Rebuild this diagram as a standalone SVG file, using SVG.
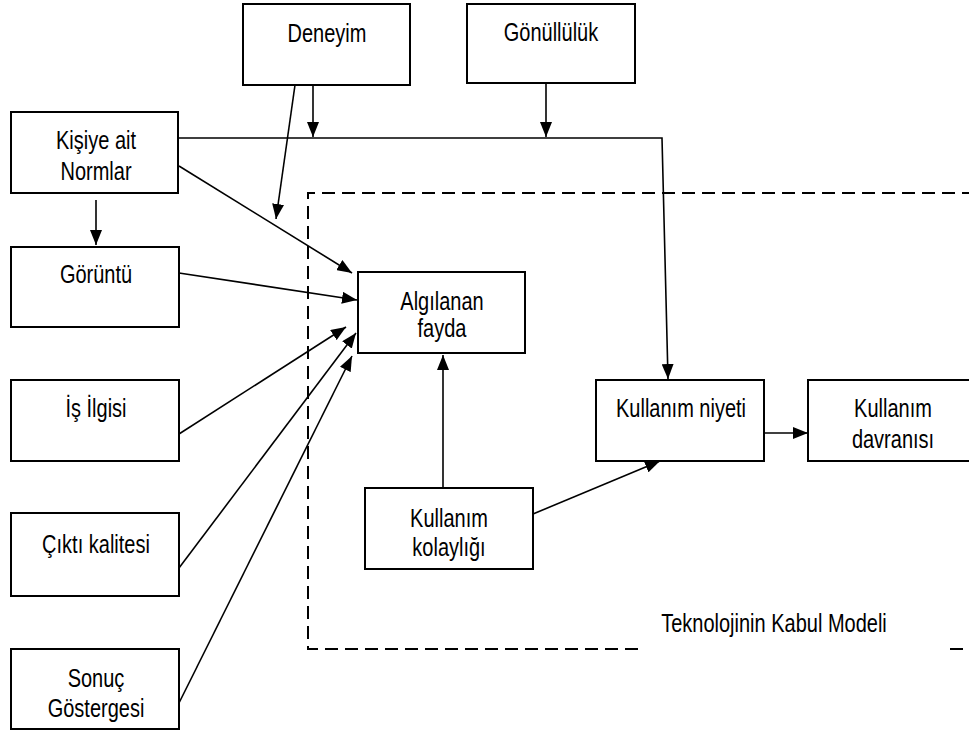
<svg xmlns="http://www.w3.org/2000/svg" width="969" height="731" viewBox="0 0 969 731">
<style>
.box{fill:#fff;stroke:#000;stroke-width:2}
.t{font-family:"Liberation Sans",Arial,sans-serif;font-size:20px;text-anchor:middle;fill:#000}
.c{fill:none;stroke:#000;stroke-width:1.6}
.dash{fill:none;stroke:#000;stroke-width:2;stroke-dasharray:13 7}
</style>
<defs>
<marker id="ah" viewBox="0 0 15 12" refX="15" refY="6" markerWidth="15" markerHeight="12" markerUnits="userSpaceOnUse" orient="auto">
<path d="M0,0 L15,6 L0,12 z" fill="#000"/>
</marker>
</defs>
<rect width="969" height="731" fill="#fff"/>
<g id="frame">
<path class="dash" d="M975,193 H308 V649 H642"/>
<path class="dash" d="M950,649 H975"/>
<text class="t" transform="matrix(1,0,0,1.3,774,632)">Teknolojinin Kabul Modeli</text>
</g>
<g id="connectors">
<path class="c" d="M313,85 V137" marker-end="url(#ah)"/>
<path class="c" d="M295,85 L276,219" marker-end="url(#ah)"/>
<path class="c" d="M546,83 V137" marker-end="url(#ah)"/>
<path class="c" d="M178,138 H662 L668,379" marker-end="url(#ah)"/>
<path class="c" d="M96,200 V245" marker-end="url(#ah)"/>
<path class="c" d="M179,166 L352,273" marker-end="url(#ah)"/>
<path class="c" d="M179,273 L357,300" marker-end="url(#ah)"/>
<path class="c" d="M179,434 L346,327" marker-end="url(#ah)"/>
<path class="c" d="M179,568 L356,333" marker-end="url(#ah)"/>
<path class="c" d="M179,703 L352,356" marker-end="url(#ah)"/>
<path class="c" d="M443,488 V355" marker-end="url(#ah)"/>
<path class="c" d="M533,514 L660,461" marker-end="url(#ah)"/>
<path class="c" d="M764,433 H808" marker-end="url(#ah)"/>
</g>
<g id="deneyim">
<rect class="box" x="243" y="4" width="167" height="81"/>
<text class="t" transform="matrix(1,0,0,1.3,327,42)">Deneyim</text>
</g>
<g id="gonulluluk">
<rect class="box" x="467" y="4" width="168" height="79"/>
<text class="t" transform="matrix(1,0,0,1.3,551,41)">Gönüllülük</text>
</g>
<g id="kisiye">
<rect class="box" x="11" y="112" width="167" height="81"/>
<text class="t" transform="matrix(1,0,0,1.3,96,149)">Kişiye ait</text>
<text class="t" transform="matrix(1,0,0,1.3,96,180)">Normlar</text>
</g>
<g id="goruntu">
<rect class="box" x="11" y="247" width="168" height="80"/>
<text class="t" transform="matrix(1,0,0,1.3,96,283)">Görüntü</text>
</g>
<g id="isilgisi">
<rect class="box" x="11" y="380" width="168" height="81"/>
<text class="t" transform="matrix(1,0,0,1.3,96,417)">İş İlgisi</text>
</g>
<g id="cikti">
<rect class="box" x="11" y="513" width="168" height="83"/>
<text class="t" transform="matrix(1,0,0,1.3,96,553)">Çıktı kalitesi</text>
</g>
<g id="sonuc">
<rect class="box" x="11" y="649" width="168" height="80"/>
<text class="t" transform="matrix(1,0,0,1.3,96,687)">Sonuç</text>
<text class="t" transform="matrix(1,0,0,1.3,96,717)">Göstergesi</text>
</g>
<g id="algilanan">
<rect class="box" x="358" y="272" width="167" height="81"/>
<text class="t" transform="matrix(1,0,0,1.3,442,310)">Algılanan</text>
<text class="t" transform="matrix(1,0,0,1.3,442,337)">fayda</text>
</g>
<g id="kolaylik">
<rect class="box" x="365" y="488" width="168" height="81"/>
<text class="t" transform="matrix(1,0,0,1.3,449,527)">Kullanım</text>
<text class="t" transform="matrix(1,0,0,1.3,449,556)">kolaylığı</text>
</g>
<g id="niyet">
<rect class="box" x="596" y="380" width="168" height="81"/>
<text class="t" transform="matrix(1,0,0,1.3,681,417)">Kullanım niyeti</text>
</g>
<g id="davranis">
<rect class="box" x="808" y="380" width="170" height="81"/>
<text class="t" transform="matrix(1,0,0,1.3,893,417)">Kullanım</text>
<text class="t" transform="matrix(1,0,0,1.3,893,448)">davranısı</text>
</g>
</svg>
